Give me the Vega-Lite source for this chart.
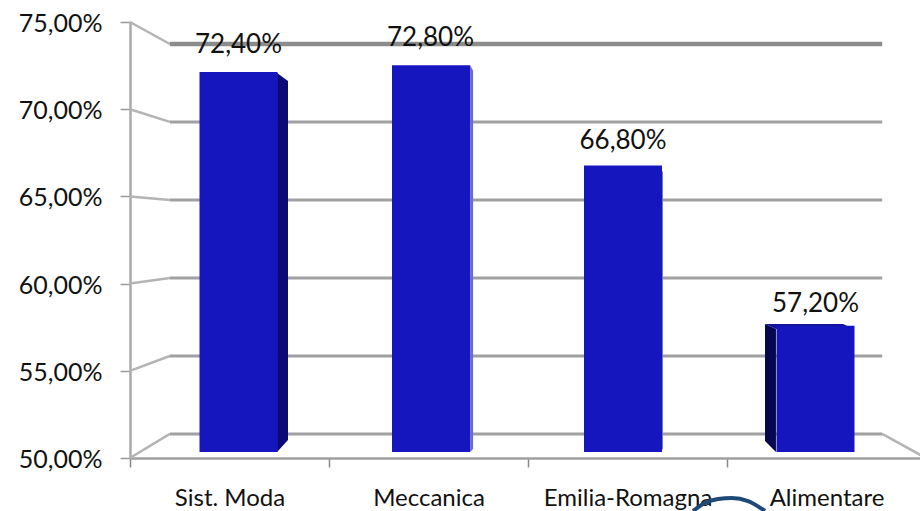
{
"$schema":"https://vega.github.io/schema/vega-lite/v6.json",
"width":790,"height":436,
"autosize":{"type":"none"},
"padding":{"left":130,"top":22,"right":0,"bottom":53},
"background":"white",
"config":{"view":{"stroke":null},"font":"Lato"},
"datasets":{
"bars":[
{"settore":"Sist. Moda","valore":72.4,"etichetta":"72,40%"},
{"settore":"Meccanica","valore":72.8,"etichetta":"72,80%"},
{"settore":"Emilia-Romagna","valore":66.8,"etichetta":"66,80%"},
{"settore":"Alimentare","valore":57.2,"etichetta":"57,20%"}],
"walls":[
{"linea":"75","parte":"slant","u":0,"v":75},{"linea":"75","parte":"slant","u":0.2,"v":73.74},
{"linea":"70","parte":"slant","u":0,"v":70},{"linea":"70","parte":"slant","u":0.2,"v":69.27},
{"linea":"65","parte":"slant","u":0,"v":65},{"linea":"65","parte":"slant","u":0.2,"v":64.79},
{"linea":"60","parte":"slant","u":0,"v":60},{"linea":"60","parte":"slant","u":0.2,"v":60.32},
{"linea":"55","parte":"slant","u":0,"v":55},{"linea":"55","parte":"slant","u":0.2,"v":55.85},
{"linea":"50","parte":"slant","u":0,"v":50},{"linea":"50","parte":"slant","u":0.2,"v":51.38},
{"linea":"50r","parte":"slant","u":3.78,"v":51.38},{"linea":"50r","parte":"slant","u":4,"v":50},
{"linea":"70","parte":"back","u":0.2,"v":69.27},{"linea":"70","parte":"back","u":3.78,"v":69.27},
{"linea":"65","parte":"back","u":0.2,"v":64.79},{"linea":"65","parte":"back","u":3.78,"v":64.79},
{"linea":"60","parte":"back","u":0.2,"v":60.32},{"linea":"60","parte":"back","u":3.78,"v":60.32},
{"linea":"55","parte":"back","u":0.2,"v":55.85},{"linea":"55","parte":"back","u":3.78,"v":55.85},
{"linea":"50","parte":"back","u":0.2,"v":51.38},{"linea":"50","parte":"back","u":3.78,"v":51.38},
{"linea":"75","parte":"top","u":0.2,"v":73.74},{"linea":"75","parte":"top","u":3.78,"v":73.74}],
"faces":[
{"faccia":"moda-side","tono":"scuro","u":0.739,"top":72.08,"bottom":50.34},
{"faccia":"moda-side","tono":"scuro","u":0.794,"top":71.62,"bottom":51.03},
{"faccia":"mecc-side","tono":"chiaro","u":1.709,"top":72.53,"bottom":50.34},
{"faccia":"mecc-side","tono":"chiaro","u":1.724,"top":72.2,"bottom":50.52},
{"faccia":"emilia-side","tono":"chiaro","u":2.663,"top":66.6,"bottom":50.34},
{"faccia":"emilia-side","tono":"chiaro","u":2.678,"top":66.4,"bottom":50.52},
{"faccia":"alim-side","tono":"scurissimo","u":3.191,"top":57.68,"bottom":50.97},
{"faccia":"alim-side","tono":"scurissimo","u":3.246,"top":57.4,"bottom":50.34},
{"faccia":"alim-top","tono":"sopra","u":3.191,"top":57.68,"bottom":57.68},
{"faccia":"alim-top","tono":"sopra","u":3.246,"top":57.68,"bottom":57.4},
{"faccia":"alim-top","tono":"sopra","u":3.583,"top":57.68,"bottom":57.4},
{"faccia":"alim-top","tono":"sopra","u":3.638,"top":57.4,"bottom":57.4}],
"arc":[
{"u":2.829,"v":46.96},{"u":2.889,"v":47.42},{"u":2.955,"v":47.65},{"u":3.025,"v":47.71},{"u":3.106,"v":47.53},{"u":3.191,"v":46.96}]
},
"layer":[
{"encoding":{
"x":{"field":"u","type":"quantitative","scale":{"domain":[0,4],"range":[0,796],"nice":false,"zero":false},"axis":null}
},
"layer":[
{"data":{"name":"walls"},"transform":[{"filter":"datum.parte==='slant'"}],"mark":{"type":"line","color":"#b4b4b4","strokeWidth":2.5},
"encoding":{"y":{"field":"v","type":"quantitative","title":null,"scale":{"domain":[50,75],"nice":false,"zero":false,"range":[436,0]},
"axis":{"values":[50,55,60,65,70,75],"labelExpr":"replace(format(datum.value,'.2f'),'.',',')+'%'","grid":false,"domainColor":"#aaaaaa","domainWidth":2.5,"tickColor":"#999999","tickWidth":1.5,"tickSize":10,"labelFontSize":25,"labelFont":"Lato","labelColor":"#111111","labelPadding":18,"labelOffset":1.5}},"detail":{"field":"linea"}}},
{"data":{"name":"walls"},"transform":[{"filter":"datum.parte==='back'"}],"mark":{"type":"line","color":"#a0a0a0","strokeWidth":3},
"encoding":{"y":{"field":"v","type":"quantitative"},"detail":{"field":"linea"}}},
{"data":{"name":"walls"},"transform":[{"filter":"datum.parte==='top'"}],"mark":{"type":"line","color":"#8c8c8c","strokeWidth":4.5},
"encoding":{"y":{"field":"v","type":"quantitative"},"detail":{"field":"linea"}}},
{"data":{"name":"faces"},"mark":{"type":"area"},
"encoding":{"y":{"field":"top","type":"quantitative"},"y2":{"field":"bottom"},"detail":{"field":"faccia"},
"color":{"field":"tono","type":"nominal","legend":null,"scale":{"domain":["scuro","scurissimo","chiaro","sopra"],"range":["#0b0b78","#07074f","#6a6ad6","#12129c"]}}}},
{"data":{"name":"arc"},"mark":{"type":"line","color":"#1f4a78","strokeWidth":4,"interpolate":"monotone"},
"encoding":{"y":{"field":"v","type":"quantitative"}}}
]},
{"data":{"name":"bars"},
"encoding":{
"x":{"field":"settore","type":"nominal","sort":null,"title":null,
"scale":{"type":"band","domain":["Sist. Moda","Meccanica","Emilia-Romagna","Alimentare"],"range":[0,796],"paddingInner":0,"paddingOuter":0},
"axis":{"labelAngle":0,"tickBand":"extent","domainColor":"#a0a0a0","domainWidth":2.5,"tickColor":"#888888","tickWidth":1.5,"tickSize":9,"labelFontSize":24,"labelFont":"Lato","labelColor":"#111111","labelPadding":19,"labelLimit":0}},
"y":{"field":"valore","type":"quantitative","axis":null,"scale":{"domain":[50,75],"nice":false,"zero":false,"range":[424,6.5]}}
},
"layer":[
{"mark":{"type":"bar","size":78,"color":"#1616bf","y2Offset":6,"xOffset":{"expr":"{'Sist. Moda':9,'Meccanica':2.5,'Emilia-Romagna':-4.5,'Alimentare':-11}[datum.settore]"}},
"encoding":{"y2":{"datum":50}}},
{"mark":{"type":"text","fontSize":26,"font":"Lato","color":"#111111","dy":{"expr":"{'Sist. Moda':-27,'Meccanica':-27,'Emilia-Romagna':-24,'Alimentare':-22}[datum.settore]"},"xOffset":{"expr":"{'Sist. Moda':9,'Meccanica':2,'Emilia-Romagna':-4.5,'Alimentare':-11}[datum.settore]"}},
"encoding":{"text":{"field":"etichetta"}}}
]}
],
"resolve":{"scale":{"x":"independent","y":"independent"},"axis":{"y":"independent","x":"independent"}}
}
